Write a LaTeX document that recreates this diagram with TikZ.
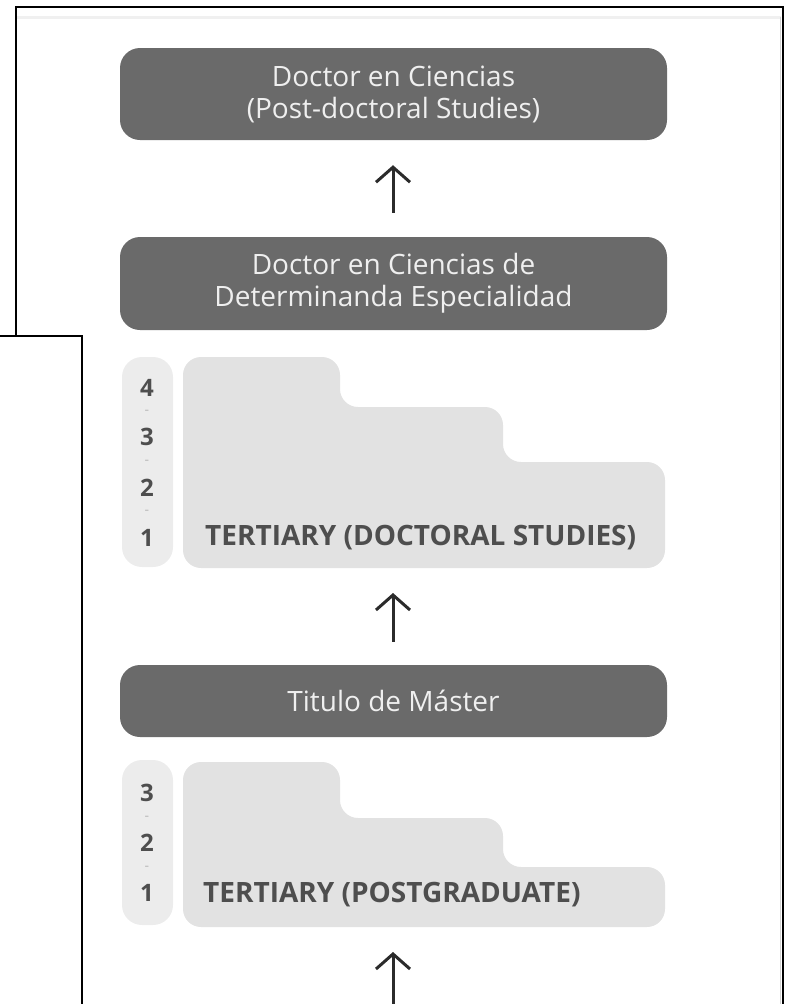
\documentclass[tikz,border=0pt]{standalone}
\usepackage{fontspec}
\setmainfont{Open Sans}
\usepackage{tikz}
\usetikzlibrary{arrows, arrows.meta}
\usetikzlibrary{calc}
\usetikzlibrary{positioning}

\definecolor{degreegray}{HTML}{6A6A6A}
\definecolor{degreetext}{HTML}{EFEFEF}
\definecolor{levelgray}{HTML}{E2E2E2}
\definecolor{yeargray}{HTML}{ECECEC}
\definecolor{yeartext}{HTML}{4E4E4E}
\definecolor{arrowgray}{HTML}{2B2B2B}

\begin{document}
\begin{tikzpicture}[x=1pt, y=-1pt,
                degree/.style={fill=degreegray, rounded corners=20pt, minimum
                        width=547pt, align=center, text=degreetext,
                        font=\fontsize{28}{32}\selectfont},
                years/.style={fill=yeargray, rounded corners=20pt, minimum width=51pt},
                yearnum/.style={text=yeartext, font=\fontsize{24}{24}\selectfont\bfseries},
                yeardash/.style={text=yeartext!40, font=\fontsize{14}{14}\selectfont},
                level/.style={fill=levelgray, rounded corners=18pt},
                leveltext/.style={anchor=base west, inner sep=0pt, text=yeartext,
                        font=\fontsize{28}{28}\selectfont\bfseries},
                frame/.style={draw=black, line width=2pt},
                arrow/.style={-{Straight Barb[length=15pt, width=34pt]}, line width=3pt,
                        draw=arrowgray},
            ]
            \useasboundingbox (0,0) rectangle (786,1004);

            % screenshot frames
            \draw[frame] (0,336) -- (82,336) -- (82,1004);
            \draw[frame] (16,336) -- (16,7) -- (783,7) -- (783,1004);
            \draw[gray!12, line width=3pt] (17,17) -- (781,17);
            \draw[gray!35, line width=1pt] (780,17) -- (780,1004);

            % degrees
            \node[degree, minimum height=92pt] (postdoc) at (393.5,94)
                {Doctor en Ciencias\\(Post-doctoral Studies)};
            \node[degree, minimum height=93pt] (doctor) at (393.5,283.5)
                {Doctor en Ciencias de\\Determinanda Especialidad};
            \node[degree, minimum height=72pt] (master) at (393.5,701) {Titulo de Máster};

            % doctoral studies
            \node[years, minimum height=210pt] (docyears) at (147.5,462) {};
            \fill[level] (183,357) -- (340,357) -- (340,407) -- (503,407) -- (503,462)
                -- (665,462) -- (665,568) -- (183,568) -- cycle;
            \node[leveltext] (doclevel) at (205,545) {TERTIARY (DOCTORAL STUDIES)};
            \foreach \n/\y in {4/388, 3/437, 2/488, 1/538}
                \node[yearnum] (doc\n) at (147,\y) {\n};
            \foreach \y in {412, 462, 512}
                \node[yeardash] at (147,\y) {-};
            \coordinate (docbottom) at (393,568);

            % postgraduate
            \node[years, minimum height=165pt] (pgyears) at (147.5,842.5) {};
            \fill[level] (183,762) -- (340,762) -- (340,818) -- (503,818) -- (503,867)
                -- (665,867) -- (665,927) -- (183,927) -- cycle;
            \node[leveltext] (pglevel) at (203,902) {TERTIARY (POSTGRADUATE)};
            \foreach \n/\y in {3/793, 2/843, 1/893}
                \node[yearnum] (pg\n) at (147,\y) {\n};
            \foreach \y in {818, 868}
                \node[yeardash] at (147,\y) {-};
            \coordinate (pgbottom) at (393,927);
            \coordinate (entry) at (393,1028);

            \draw[arrow, shorten <=24pt, shorten >=25pt] ([xshift=-0.5pt]doctor.north)
                -- ([xshift=-0.5pt]postdoc.south);
            \draw[arrow, shorten <=23pt, shorten >=25pt] ([xshift=-0.5pt]master.north)
                -- (docbottom);
            \draw[arrow, shorten <=24pt, shorten >=25pt] (entry) -- (pgbottom);
        \end{tikzpicture}
\end{document}
